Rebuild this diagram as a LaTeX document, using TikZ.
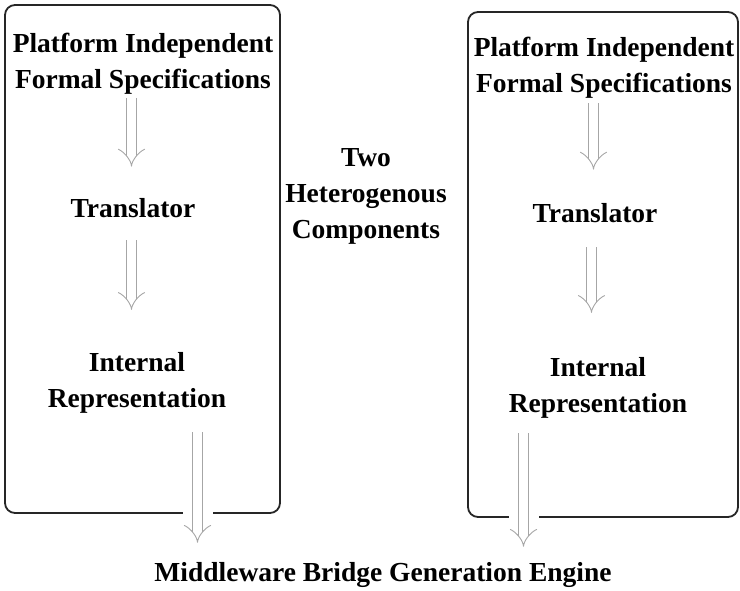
\documentclass[tikz,border=0pt]{standalone}
\usepackage{fontspec}
\setmainfont{Liberation Serif}
\usetikzlibrary{arrows.meta}

\tikzset{
  lbl/.style={font=\fontsize{27.5}{36}\selectfont\bfseries, align=center, inner sep=0pt},
  panel/.style={draw=black!85, line width=1.8pt, rounded corners=10pt},
  hollow/.style={draw=gray!70, double=white, double distance=9pt, line width=0.9pt, -{Implies}},
  cutline/.style={preaction={draw=white, line width=30pt, -}},
}

\begin{document}
\begin{tikzpicture}[x=1pt, y=-1pt]
	\useasboundingbox (0,0) rectangle (740,590);
	% the two components
	\draw[panel] (5,5) rectangle (280,513);
	\draw[panel] (468,12) rectangle (738,517);

	\node[lbl] (pf1) at (143, 64) {Platform Independent\\Formal Specifications};
	\node[lbl] (tl1) at (133, 208) {Translator};
	\node[lbl] (ir1) at (137, 383) {Internal\\Representation};
	\node[lbl] (het) at (366, 196) {Two\\Heterogenous\\Components};
	\node[lbl] (pf2) at (604, 68) {Platform Independent\\Formal Specifications};
	\node[lbl] (tl2) at (595, 213) {Translator};
	\node[lbl] (ir2) at (598, 388) {Internal\\Representation};
	\node[lbl] (mbe) at (383, 575) {Middleware Bridge Generation Engine};

	\draw[hollow] ([xshift=-11.5pt,yshift=-3pt]pf1.south) -- ([xshift=-1.5pt,yshift=31.6pt]tl1.north);
	\draw[hollow] ([xshift=-1.5pt,yshift=-22.5pt]tl1.south) -- ([xshift=-5.5pt,yshift=42.5pt]ir1.north);
	\draw[hollow, cutline] ([xshift=60.5pt,yshift=-18.5pt]ir1.south) -- ([xshift=-185.5pt,yshift=19.5pt]mbe.north);
	\draw[hollow] ([xshift=-10.5pt,yshift=-4.5pt]pf2.south) -- ([xshift=-1.5pt,yshift=33.6pt]tl2.north);
	\draw[hollow] ([xshift=-3.5pt,yshift=-24.5pt]tl2.south) -- ([xshift=-6.5pt,yshift=44.5pt]ir2.north);
	\draw[hollow, cutline] ([xshift=-74.5pt,yshift=-14.5pt]ir2.south) -- ([xshift=140.5pt,yshift=15.5pt]mbe.north);
\end{tikzpicture}
\end{document}
